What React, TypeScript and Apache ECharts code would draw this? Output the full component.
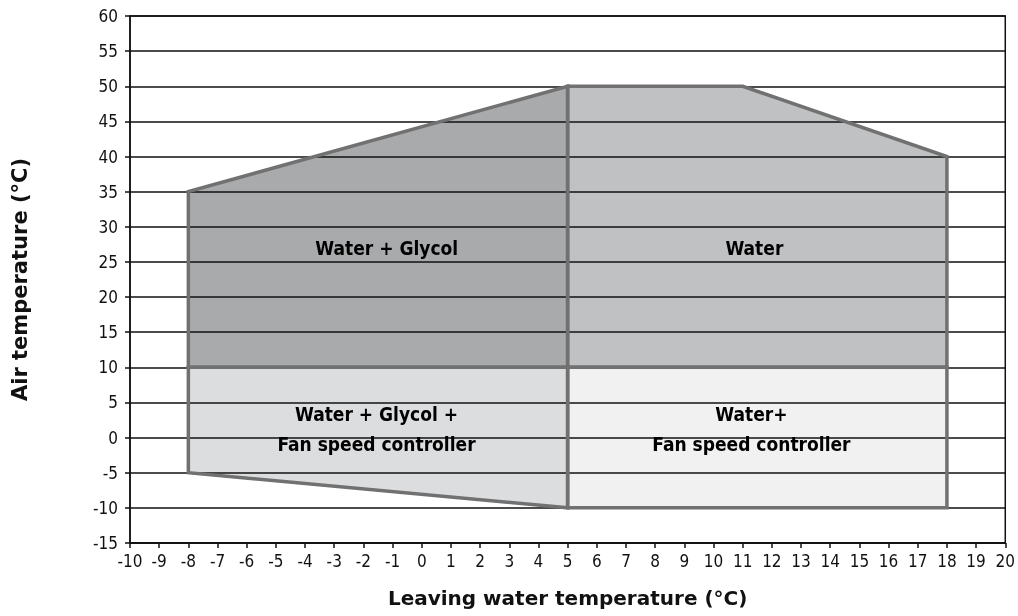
import React, { useEffect, useRef } from "react";
import * as echarts from "echarts";

const xTicksMin = -10;
const xTicksMax = 20;
const yTicksMin = -15;
const yTicksMax = 60;

const glycolTop: number[][] = [[-8, 10], [-8, 35], [5, 50], [5, 10]];
const waterTop: number[][] = [[5, 10], [5, 50], [11, 50], [18, 40], [18, 10]];
const glycolFan: number[][] = [[-8, -5], [-8, 10], [5, 10], [5, -10]];
const waterFan: number[][] = [[5, -10], [5, 10], [18, 10], [18, -10]];

const regionNames = ["Water + Glycol", "Water", "Water + Glycol +\nFan speed controller", "Water+\nFan speed controller"];
const regionPoints = [glycolTop, waterTop, glycolFan, waterFan];
const regionColors = ["#a9aaac", "#c0c1c3", "#dcdddf", "#f1f1f1"];
const labelPositions: number[][] = [[-1.2, 27], [11.4, 27], [-1.55, 1.2], [11.3, 1.2]];

export default function App() {
  const ref = useRef<HTMLDivElement>(null);
  useEffect(() => {
    if (!ref.current) return;
    const chart = echarts.init(ref.current, undefined, { renderer: "svg" });
    const tickFont = "'DejaVu Sans Condensed', 'Liberation Sans Narrow', sans-serif";
    const titleFont = "'DejaVu Sans', Verdana, sans-serif";
    const labelFont = "bold 19px 'DejaVu Sans Condensed', 'Liberation Sans Narrow', sans-serif";
    chart.setOption({
      animation: false,
      grid: {
        left: 130,
        right: 9,
        top: 16,
        bottom: 73,
        show: true,
        borderColor: "#111",
        borderWidth: 1.5,
        backgroundColor: "transparent",
      },
      xAxis: {
        type: "value",
        min: xTicksMin,
        max: xTicksMax,
        interval: 1,
        name: "Leaving water temperature (°C)",
        nameLocation: "middle",
        nameGap: 45,
        nameTextStyle: { fontFamily: titleFont, fontWeight: "bold", fontSize: 20, color: "#111" },
        axisLine: { show: true, onZero: false, lineStyle: { color: "#111", width: 1.5 } },
        axisTick: { show: true, length: 5, lineStyle: { color: "#111", width: 1.5 } },
        axisLabel: { fontFamily: tickFont, fontSize: 17, color: "#111", margin: 9 },
        splitLine: { show: false },
      },
      yAxis: {
        type: "value",
        min: yTicksMin,
        max: yTicksMax,
        interval: 5,
        name: "Air temperature (°C)",
        nameLocation: "middle",
        nameGap: 100,
        nameRotate: 90,
        nameTextStyle: { fontFamily: titleFont, fontWeight: "bold", fontSize: 21, color: "#111" },
        axisLine: { show: true, onZero: false, lineStyle: { color: "#111", width: 1.5 } },
        axisTick: { show: true, length: 5, lineStyle: { color: "#111", width: 1.5 } },
        axisLabel: { fontFamily: tickFont, fontSize: 17, color: "#111", margin: 12 },
        splitLine: { show: true, lineStyle: { color: "#111", width: 1.5 } },
      },
      series: [
        {
          type: "custom",
          z: -1,
          silent: true,
          data: regionPoints.map((_, i) => [i]),
          renderItem: (params: any, api: any) => {
            const i = params.dataIndex;
            return {
              type: "polygon",
              shape: { points: regionPoints[i].map((p) => api.coord(p)) },
              style: { fill: regionColors[i], stroke: "none" },
            };
          },
        },
        {
          type: "custom",
          z: 5,
          silent: true,
          data: regionPoints.map((_, i) => [i]),
          renderItem: (params: any, api: any) => {
            const i = params.dataIndex;
            const c = api.coord(labelPositions[i]);
            return {
              type: "group",
              children: [
                {
                  type: "polygon",
                  shape: { points: regionPoints[i].map((p) => api.coord(p)) },
                  style: { fill: "none", stroke: "#717171", lineWidth: 3.5, lineJoin: "miter" },
                },
                {
                  type: "text",
                  x: c[0],
                  y: c[1],
                  style: {
                    text: regionNames[i],
                    font: labelFont,
                    fill: "#000",
                    align: "center",
                    verticalAlign: "middle",
                    textAlign: "center",
                    textVerticalAlign: "middle",
                    lineHeight: 30,
                  },
                },
              ],
            };
          },
        },
      ],
    });
    return () => chart.dispose();
  }, []);
  return (
    <div
      ref={ref}
      style={{ position: "fixed", left: 0, top: 0, width: 1018, height: 616 }}
    />
  );
}
